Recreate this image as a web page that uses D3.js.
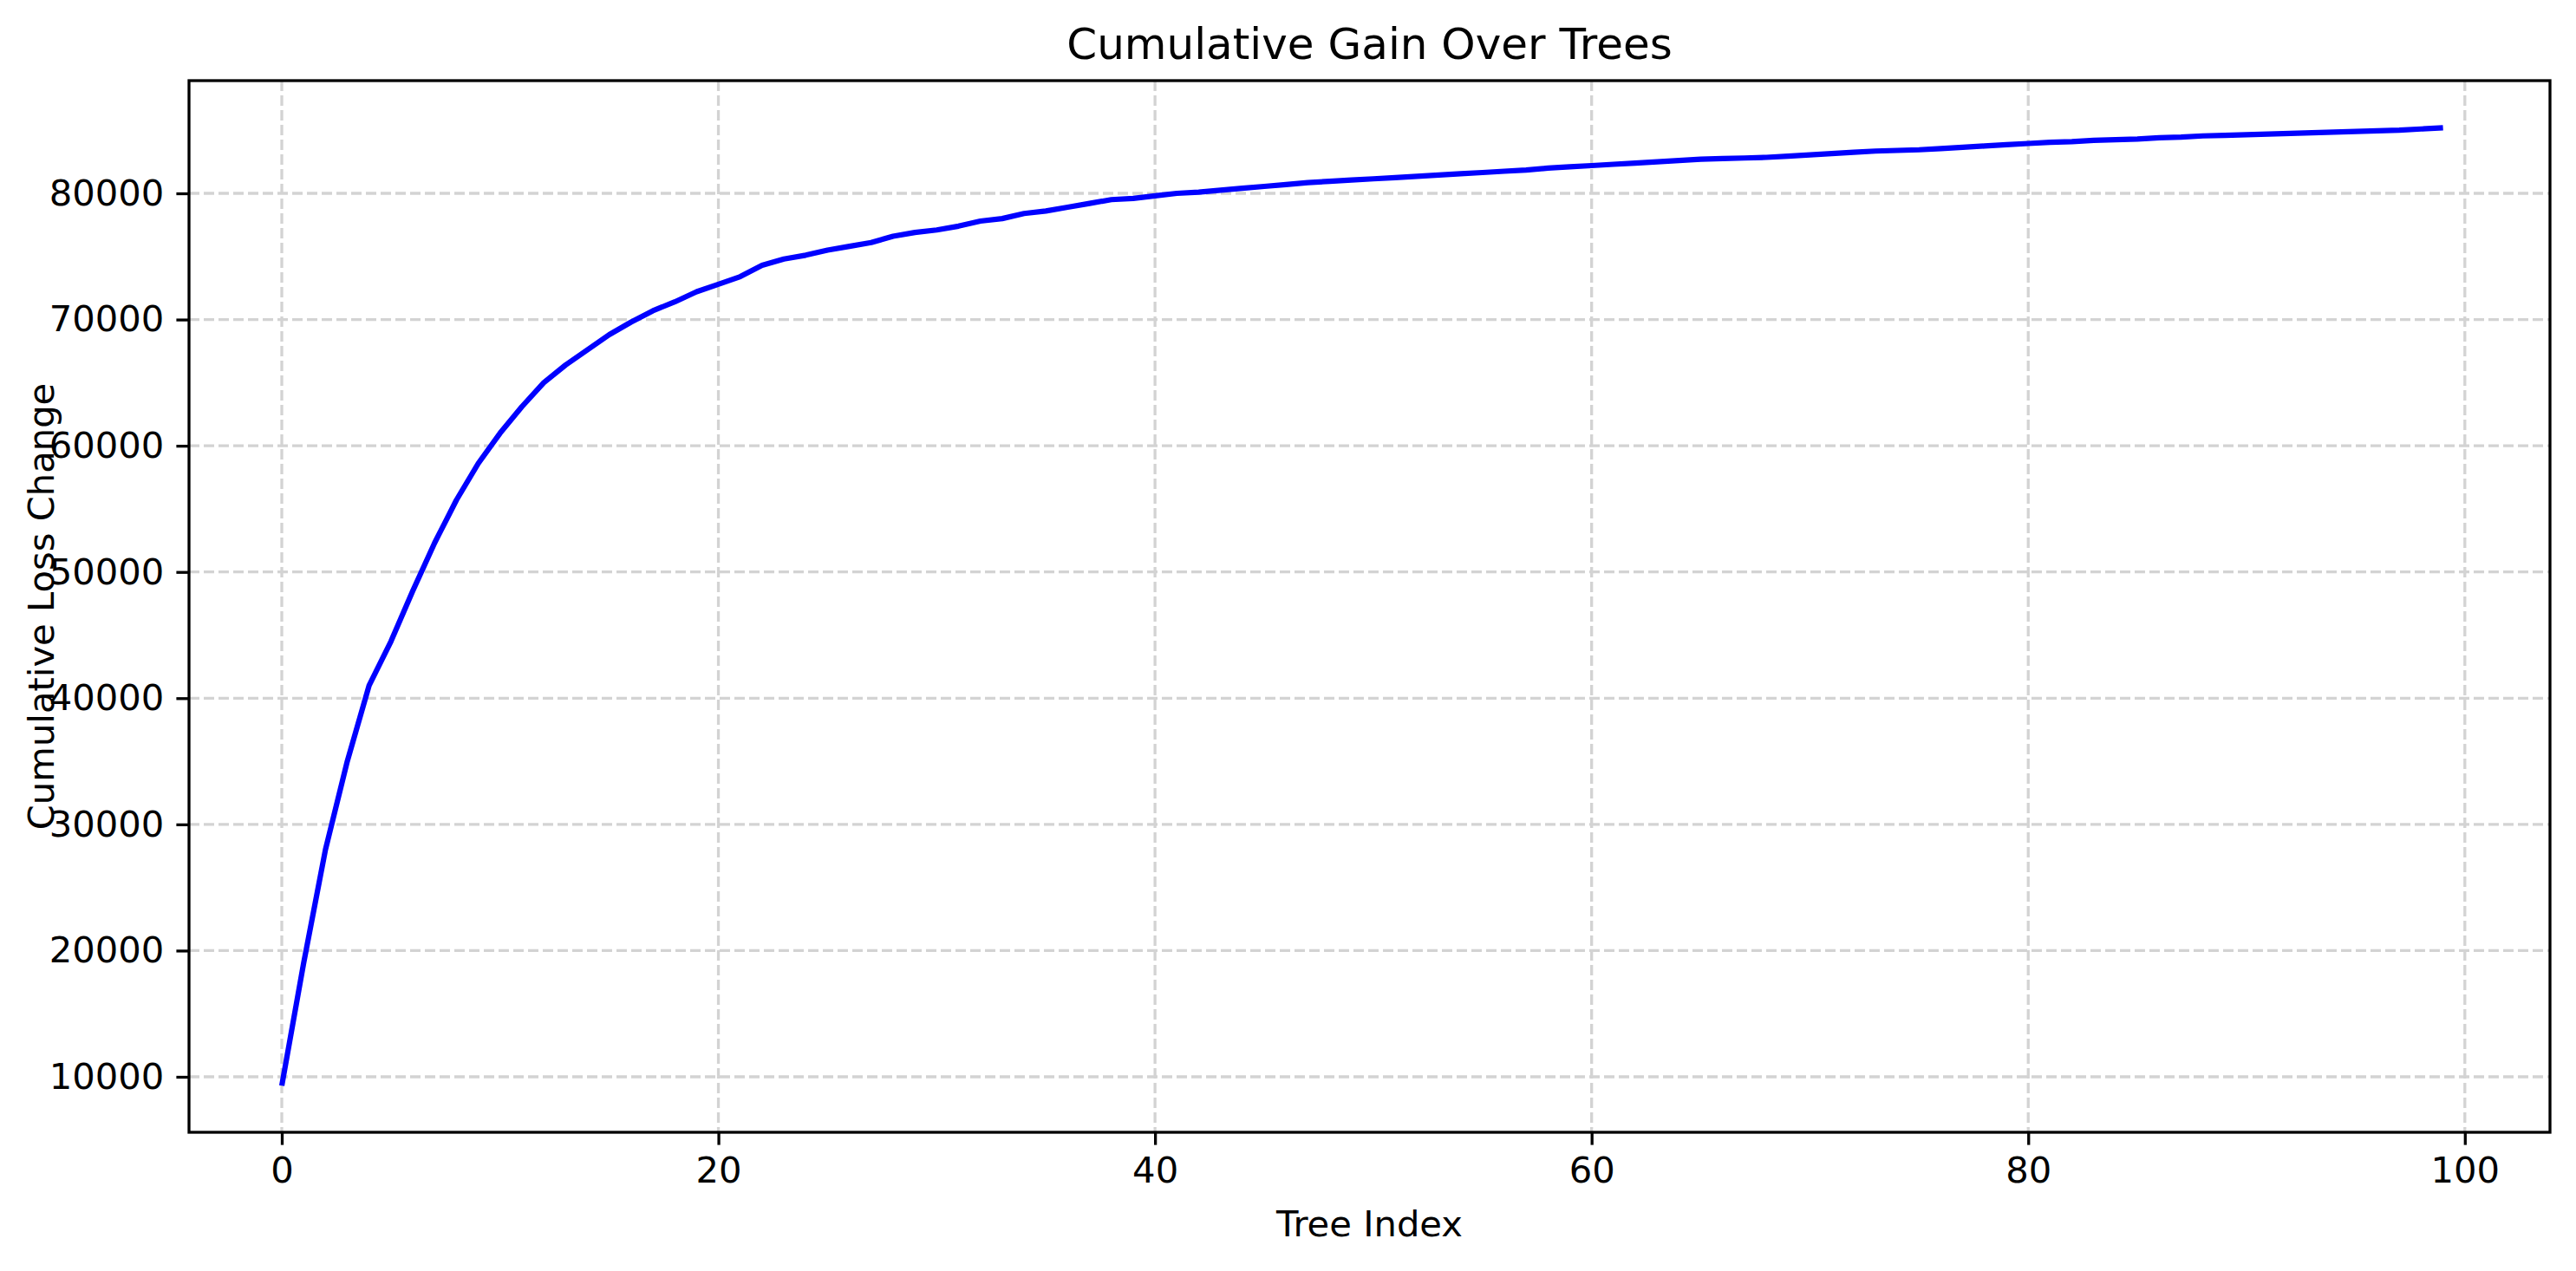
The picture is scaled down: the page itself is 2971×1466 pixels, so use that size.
<!DOCTYPE html>
<html>
<head>
<meta charset="utf-8">
<script src="https://cdn.jsdelivr.net/npm/d3@7"></script>
<style>
  body { margin: 0; background: #fff; }
  text { font-family: "DejaVu Sans", sans-serif; fill: #000; }
</style>
</head>
<body>
<script>
var W = 2971, H = 1466;

// cumulative loss change per tree
var values = [
  9300, 19000, 28000, 35000, 41000, 44500, 48500, 52300, 55700, 58600,
  61000, 63100, 65000, 66400, 67600, 68800, 69800, 70700, 71400, 72200,
  72800, 73400, 74300, 74800, 75100, 75500, 75800, 76100, 76600, 76900,
  77100, 77400, 77800, 78000, 78400, 78600, 78900, 79200, 79500, 79600,
  79800, 80000, 80100, 80250, 80400, 80550, 80700, 80850, 80950, 81050,
  81150, 81250, 81350, 81450, 81550, 81650, 81750, 81850, 82000, 82100,
  82200, 82300, 82400, 82500, 82600, 82700, 82750, 82800, 82850, 82950,
  83050, 83150, 83250, 83350, 83400, 83450, 83550, 83650, 83750, 83850,
  83950, 84050, 84100, 84200, 84250, 84300, 84400, 84450, 84550, 84600,
  84650, 84700, 84750, 84800, 84850, 84900, 84950, 85000, 85100, 85200
];
var xTicks = [0, 20, 40, 60, 80, 100];
var yTicks = [10000, 20000, 30000, 40000, 50000, 60000, 70000, 80000];

var pLeft = 218, pRight = 2941, pTop = 93, pBottom = 1306;

var x = d3.scaleLinear().domain([-4.25, 103.9]).range([pLeft, pRight]);
var y = d3.scaleLinear().domain([5604, 88930]).range([pBottom, pTop]);

var svg = d3.select("body").append("svg")
  .attr("width", W).attr("height", H);

// grid
svg.append("g").selectAll("line").data(xTicks).enter().append("line")
  .attr("x1", d => x(d)).attr("x2", d => x(d))
  .attr("y1", pTop).attr("y2", pBottom)
  .attr("stroke", "#d3d3d3").attr("stroke-width", 3.3)
  .attr("stroke-dasharray", "12,5");
svg.append("g").selectAll("line").data(yTicks).enter().append("line")
  .attr("x1", pLeft).attr("x2", pRight)
  .attr("y1", d => y(d)).attr("y2", d => y(d))
  .attr("stroke", "#d3d3d3").attr("stroke-width", 3.3)
  .attr("stroke-dasharray", "12,5");

// line
var line = d3.line().x((d, i) => x(i)).y(d => y(d));
svg.append("path").datum(values)
  .attr("d", line)
  .attr("fill", "none").attr("stroke", "#0000ff")
  .attr("stroke-width", 6.2).attr("stroke-linejoin", "round");

// axes
var xAxis = d3.axisBottom(x).tickValues(xTicks).tickSize(14.6).tickPadding(14);
var yAxis = d3.axisLeft(y).tickValues(yTicks).tickSize(14.6).tickPadding(14)
  .tickFormat(d3.format("d"));

var gx = svg.append("g").attr("transform", "translate(0," + pBottom + ")").call(xAxis);
var gy = svg.append("g").attr("transform", "translate(" + pLeft + ",0)").call(yAxis);
[gx, gy].forEach(function(g) {
  g.select(".domain").remove();
  g.selectAll("line").attr("stroke", "#000").attr("stroke-width", 3.3);
  g.selectAll("text").attr("font-size", 41.7).attr("font-family", "DejaVu Sans");
});

// frame
svg.append("rect")
  .attr("x", pLeft).attr("y", pTop)
  .attr("width", pRight - pLeft).attr("height", pBottom - pTop)
  .attr("fill", "none").attr("stroke", "#000").attr("stroke-width", 3.3);

// titles
svg.append("text").attr("x", (pLeft + pRight) / 2).attr("y", 68)
  .attr("text-anchor", "middle").attr("font-size", 50)
  .text("Cumulative Gain Over Trees");
svg.append("text").attr("x", (pLeft + pRight) / 2).attr("y", 1426)
  .attr("text-anchor", "middle").attr("font-size", 41.7)
  .text("Tree Index");
svg.append("text")
  .attr("transform", "translate(62," + (pTop + pBottom) / 2 + ") rotate(-90)")
  .attr("text-anchor", "middle").attr("font-size", 41.7)
  .text("Cumulative Loss Change");
</script>
</body>
</html>
